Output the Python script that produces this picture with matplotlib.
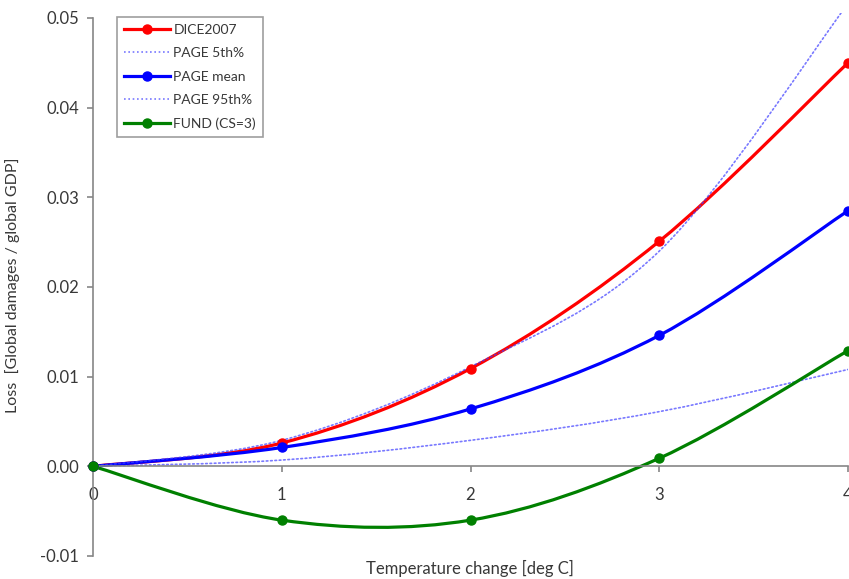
"""
Damage functions: loss vs temperature change.
"""

import matplotlib

matplotlib.use("Agg")
import matplotlib.pyplot as plt
import numpy as np
from matplotlib.lines import Line2D
from matplotlib.patches import PathPatch
from matplotlib.path import Path

plt.rcParams["font.family"] = ["Lato", "DejaVu Sans"]
plt.rcParams["axes.unicode_minus"] = False

# data
temps = [0, 1, 2, 3, 4]
dice2007 = [0.0, 0.0026, 0.0109, 0.0251, 0.0450]
page_5th = [0.0, 0.0007, 0.0029, 0.0061, 0.0108]
page_mean = [0.0, 0.0021, 0.0064, 0.0146, 0.0285]
page_95th = [0.0, 0.0029, 0.0111, 0.0240, 0.0516]
fund_cs3 = [0.0, -0.0060, -0.0060, 0.0009, 0.0129]

x_ticks = [0, 1, 2, 3, 4]
y_ticks = [-0.01, 0.0, 0.01, 0.02, 0.03, 0.04, 0.05]

GREY_TXT = "#383838"
GREY_AX = "#868686"


def smooth_path(xs, ys):
    """Bezier path through the points, like a spreadsheet 'smoothed line'."""
    pts = np.column_stack([xs, ys]).astype(float)
    n = len(pts)
    verts = [pts[0]]
    codes = [Path.MOVETO]
    for i in range(n - 1):
        p0 = pts[i - 1] if i > 0 else pts[i]
        p1 = pts[i]
        p2 = pts[i + 1]
        p3 = pts[i + 2] if i + 2 < n else pts[i + 1]
        verts += [p1 + (p2 - p0) / 6, p2 - (p3 - p1) / 6, p2]
        codes += [Path.CURVE4] * 3
    return Path(verts, codes)


def draw_series(ax, ys, color, lw, ls="-", alpha=1.0, marker=True):
    patch = PathPatch(
        smooth_path(temps, ys),
        facecolor="none",
        edgecolor=color,
        lw=lw,
        ls=ls,
        alpha=alpha,
        capstyle="round",
    )
    ax.add_patch(patch)
    if marker:
        ax.plot(temps, ys, "o", color=color, ms=6.5, zorder=3, clip_on=False)
    return Line2D([], [], color=color, lw=lw, ls=ls, alpha=alpha,
                  marker="o" if marker else None, ms=6.5)


fig = plt.figure(figsize=(8.49, 5.79), dpi=100)
ax = fig.add_axes([93 / 849, 23 / 579, 755 / 849, 543.4 / 579])

dotted = (0, (1, 1.6))
handles = [
    draw_series(ax, dice2007, "#ff0000", 2.3),
    draw_series(ax, page_5th, "#4040ff", 1.2, ls=dotted, alpha=0.7, marker=False),
    draw_series(ax, page_mean, "#0000ff", 2.3),
    draw_series(ax, page_95th, "#4040ff", 1.2, ls=dotted, alpha=0.7, marker=False),
    draw_series(ax, fund_cs3, "#008000", 2.3),
]
labels = ["DICE2007", "PAGE 5th%", "PAGE mean", "PAGE 95th%", "FUND (CS=3)"]

ax.set_xlim(0, 4)
ax.set_ylim(-0.01, 0.0506)

# axes styling
for side in ["top", "right"]:
    ax.spines[side].set_visible(False)
ax.spines["left"].set_bounds(-0.01, 0.05)
ax.spines["bottom"].set_position(("data", 0))
for side in ["left", "bottom"]:
    ax.spines[side].set_color(GREY_AX)
    ax.spines[side].set_linewidth(1.2)

ax.set_xticks(x_ticks)
ax.set_xticklabels([str(t) for t in x_ticks])
ax.set_yticks(y_ticks)
ax.set_yticklabels([f"{t:.2f}" for t in y_ticks])
ax.tick_params(axis="x", direction="out", length=4, width=1.2, color=GREY_AX,
               labelsize=12, labelcolor=GREY_TXT, pad=11)
ax.tick_params(axis="y", direction="out", length=4, width=1.2, color=GREY_AX,
               labelsize=12, labelcolor=GREY_TXT, pad=6)

fig.text(470 / 849, 1 - 568 / 579, "Temperature change [deg C]",
         ha="center", va="center", fontsize=12, color=GREY_TXT)
fig.text(13 / 849, 1 - 285 / 579, "Loss  [Global damages / global GDP]",
         ha="center", va="center", rotation=90, fontsize=11.5, color=GREY_TXT)

leg = ax.legend(
    handles, labels,
    loc="upper left",
    bbox_to_anchor=(0.032, 0.992),
    borderaxespad=0,
    fontsize=10,
    frameon=True,
    fancybox=False,
    handlelength=3.3,
    handletextpad=0.25,
    labelspacing=0.82,
    borderpad=0.5,
)
leg.get_frame().set_edgecolor(GREY_AX)
leg.get_frame().set_linewidth(1.2)
for t in leg.get_texts():
    t.set_color(GREY_TXT)

fig.savefig("out.png", dpi=100)
